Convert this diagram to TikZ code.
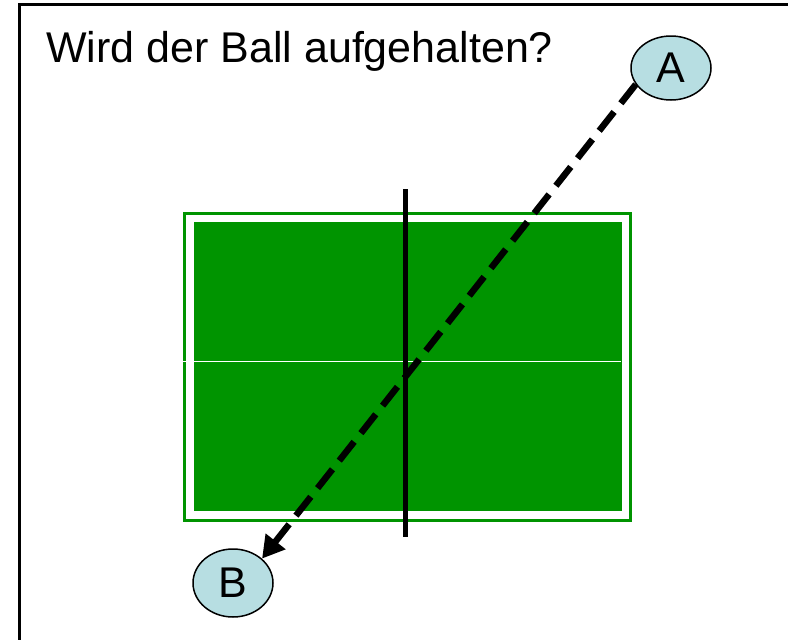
\documentclass[tikz,border=0pt]{standalone}
\usepackage{fontspec}
\setmainfont{Liberation Sans}
\usetikzlibrary{arrows.meta,shapes.geometric}
\definecolor{tablegreen}{RGB}{0,148,0}
\definecolor{ballblue}{RGB}{183,222,226}
\tikzset{
  player/.style={ellipse, draw=black, line width=1.5pt, fill=ballblue, inner sep=0pt,
    minimum width=80pt, font=\fontsize{43}{50}\selectfont},
  path/.style={line width=6.5pt, dash pattern=on 24pt off 11pt, -{Triangle[length=22pt,width=24pt]}},
}
\begin{document}
\begin{tikzpicture}[x=1pt,y=-1pt]
\useasboundingbox (0,0) rectangle (788,640);
\clip (0,0) rectangle (788,640);
% frame
\draw[line width=3pt] (19.5,4.5) rectangle (820,680);
% title
\node[anchor=base west, inner sep=0pt, font=\fontsize{43}{50}\selectfont] (title) at (46,62) {Wird der Ball aufgehalten?};
% table
\draw[tablegreen, line width=3pt] (184.5,213.5) rectangle (630.5,520.5);
\fill[tablegreen] (194,222) rectangle (622,511);
\draw[white, line width=1.5pt] (183,361.5) -- (621,361.5);
% net
\draw[line width=4.5pt] (405.5,189) -- (405.5,537);
% players
\node[player, minimum height=64pt] (A) at (671,68) {A};
\node[player, minimum height=68pt] (B) at (233,583) {B};
\draw[path] (A.205) -- (B.40);
\end{tikzpicture}
\end{document}
